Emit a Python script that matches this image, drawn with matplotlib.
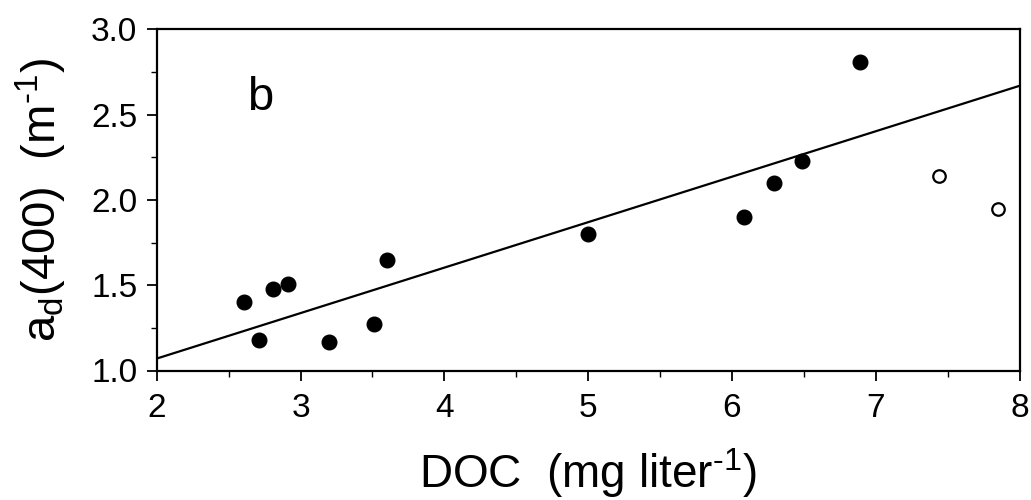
import numpy as np
import matplotlib.pyplot as plt
from matplotlib.ticker import MultipleLocator

# -----------------------------
# Data
# -----------------------------
doc_filled = [2.61, 2.71, 2.81, 2.91, 3.20, 3.51, 3.60, 5.00, 6.08, 6.29, 6.49, 6.89]
ad_filled = [1.40, 1.18, 1.48, 1.51, 1.17, 1.27, 1.65, 1.80, 1.90, 2.10, 2.23, 2.81]

doc_open = [7.44, 7.85]
ad_open = [2.14, 1.95]

fit_x = [2.0, 8.0]
fit_y = [1.07, 2.67]

panel_label = "b"

# -----------------------------
# Plot
# -----------------------------
plt.rcParams['font.family'] = ['Liberation Sans', 'DejaVu Sans']
plt.rcParams['mathtext.fontset'] = 'custom'
plt.rcParams['mathtext.rm'] = 'Liberation Sans'
plt.rcParams['mathtext.it'] = 'Liberation Sans'

fig = plt.figure(figsize=(10.31, 5.0), dpi=100)
ax = fig.add_axes([0.152, 0.259, 0.837, 0.682])

ax.plot(fit_x, fit_y, color="black", lw=1.6)
ax.plot(doc_filled, ad_filled, "o", color="black", ms=10.5)
ax.plot(doc_open, ad_open, "o", mfc="none", mec="black", ms=9, mew=1.6)

ax.text(2.72, 2.6, panel_label, fontsize=34, ha="center", va="center")

ax.set_xlim(2, 8)
ax.set_ylim(1.0, 3.0)
ax.xaxis.set_major_locator(MultipleLocator(1))
ax.xaxis.set_minor_locator(MultipleLocator(0.5))
ax.yaxis.set_major_locator(MultipleLocator(0.5))
ax.yaxis.set_minor_locator(MultipleLocator(0.25))
ax.yaxis.set_major_formatter(plt.FormatStrFormatter("%.1f"))

ax.tick_params(which="major", direction="out", length=7, width=1.3, labelsize=24)
ax.tick_params(axis="x", which="major", pad=9)
ax.tick_params(axis="y", which="major", pad=7)
ax.tick_params(which="minor", direction="out", length=4, width=1.0)
for s in ax.spines.values():
    s.set_linewidth(1.6)

ax.set_xlabel("DOC  (mg liter$^{\\mathregular{\u2010}1}$)", fontsize=33, labelpad=16)
ax.set_ylabel("a$_{\\mathregular{d}}$(400)  (m$^{\\mathregular{\u2010}1}$)", fontsize=34, labelpad=16)

fig.savefig("out.png", dpi=100)
